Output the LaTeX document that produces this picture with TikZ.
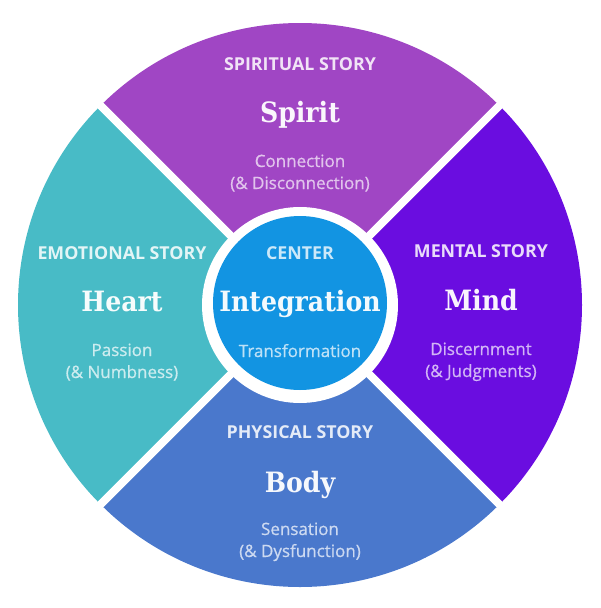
\documentclass[tikz,border=0pt]{standalone}
\usepackage{fontspec}
\usetikzlibrary{calc}
\setmainfont{Open Sans}
\newfontfamily\semib[FakeBold=0.7]{Open Sans}
\newfontfamily\slab{DejaVu Serif Condensed}
\definecolor{cspirit}{HTML}{A046C4}
\definecolor{cmind}{HTML}{6A0DE0}
\definecolor{cheart}{HTML}{48BBC6}
\definecolor{cbody}{HTML}{4A78CC}
\definecolor{ccenter}{HTML}{1294E2}
\tikzset{
  ttl/.style={font=\fontsize{17.8}{17.8}\selectfont\bfseries, inner sep=0pt, anchor=base},
  big/.style={font=\fontsize{28}{28}\selectfont\slab\bfseries, inner sep=0pt, anchor=base},
  sub/.style={font=\fontsize{17}{22}\selectfont\semib, inner sep=0pt, anchor=base, align=center},
}
\begin{document}
\begin{tikzpicture}[x=1pt,y=1pt]
\useasboundingbox (0,0) rectangle (600,-608);
\coordinate (c) at (300,-305);
\def\R{282}
% sectors
\fill[cspirit] (c) -- ++(45:\R) arc[start angle=45,end angle=135,radius=\R] -- cycle;
\fill[cheart] (c) -- ++(135:\R) arc[start angle=135,end angle=225,radius=\R] -- cycle;
\fill[cbody] (c) -- ++(225:\R) arc[start angle=225,end angle=315,radius=\R] -- cycle;
\fill[cmind] (c) -- ++(315:\R) arc[start angle=315,end angle=405,radius=\R] -- cycle;
% gaps
\draw[white,line width=8pt] ($(c)+(45:\R+5)$) -- ($(c)+(225:\R+5)$);
\draw[white,line width=8pt] ($(c)+(135:\R+5)$) -- ($(c)+(315:\R+5)$);
\fill[white] (c) circle[radius=98];
\fill[ccenter] (300,-303) circle[radius=87];
% texts
\node[ttl,text=white!85!cspirit] (st) at (300,-70) {SPIRITUAL STORY};
\node[big,text=white!95!cspirit] (sp) at (300,-122) {Spirit};
\node[sub,text=white!68!cspirit] (sc) at (300,-189) {Connection\\(\& Disconnection)};
\node[ttl,text=white!85!cheart] (et) at (122,-259) {EMOTIONAL STORY};
\node[big,text=white!95!cheart] (he) at (122,-311) {Heart};
\node[sub,text=white!72!cheart] (hc) at (122,-378) {Passion\\(\& Numbness)};
\node[ttl,text=white!78!ccenter] (ct) at (300,-259) {CENTER};
\node[big,text=white!95!ccenter] (in) at (300,-311) {Integration};
\node[sub,text=white!72!ccenter] (tr) at (300,-357) {Transformation};
\node[ttl,text=white!85!cmind] (mt) at (481,-257) {MENTAL STORY};
\node[big,text=white!95!cmind] (mi) at (481,-310) {Mind};
\node[sub,text=white!70!cmind] (mc) at (481,-377) {Discernment\\(\& Judgments)};
\node[ttl,text=white!85!cbody] (pt) at (300,-438) {PHYSICAL STORY};
\node[big,text=white!95!cbody] (bo) at (300,-492) {Body};
\node[sub,text=white!72!cbody] (bc) at (300,-557) {Sensation\\(\& Dysfunction)};
\end{tikzpicture}
\end{document}
